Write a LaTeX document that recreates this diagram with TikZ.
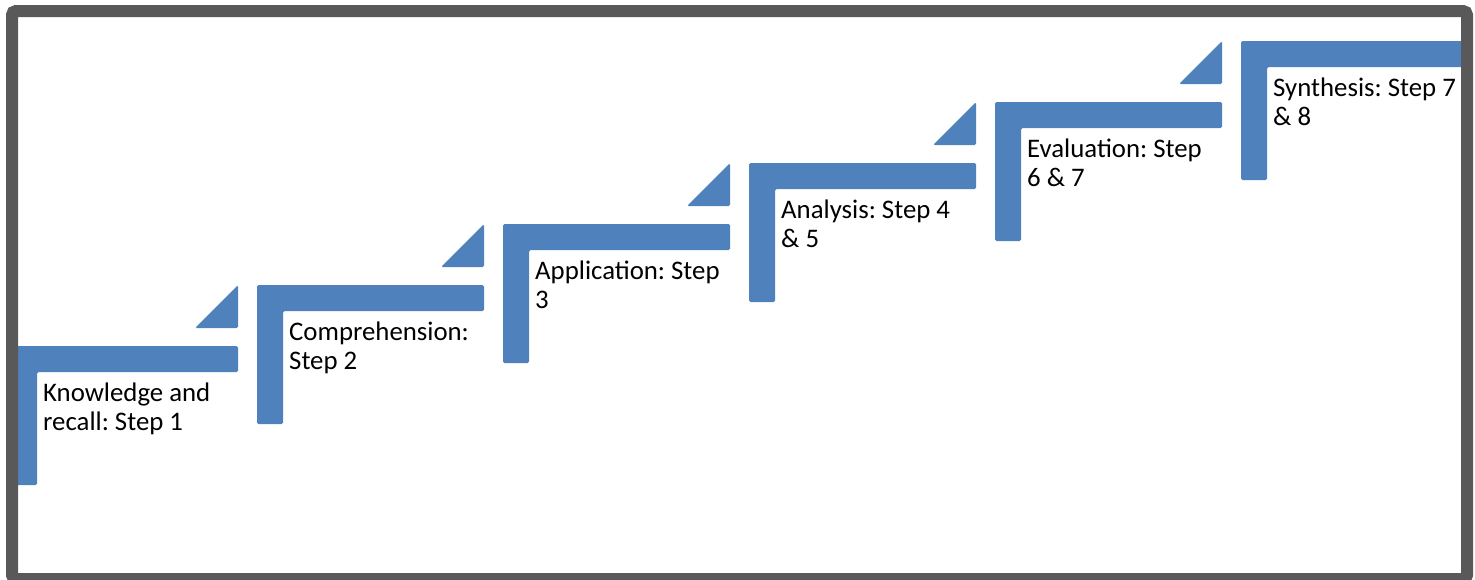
\documentclass[tikz,border=0pt]{standalone}
\usepackage{fontspec}
\setmainfont{Carlito}
\frenchspacing
\definecolor{stepblue}{HTML}{4F81BD}
\definecolor{framegray}{HTML}{595959}
\tikzset{
  steplabel/.style={anchor=base west, inner sep=0pt, font=\fontsize{26.8}{29.5}\selectfont, text=black},
}
\newcommand{\mystep}[5]{% #1 name, #2 x0, #3 top, #4 text
  \fill[stepblue, rounded corners=1.5pt] (#2,#3) -- (#2+227,#3) -- (#2+227,#3+26) -- (#2+26,#3+26) -- (#2+26,#3+139) -- (#2,#3+139) -- cycle;
  \node[steplabel] (#1) at (#2+32,#3+55) {\begin{tabular}[t]{@{}l@{}}#4\end{tabular}};
}
\newcommand{\mytri}[3]{% #1 name, #2 right x, #3 top y
  \fill[stepblue, rounded corners=1.5pt] (#2-43,#3+43) -- (#2,#3) -- (#2,#3+43) -- cycle;
  \coordinate (#1) at (#2,#3);
}
\begin{document}
\begin{tikzpicture}[x=1pt,y=-1pt]
\useasboundingbox (0,0) rectangle (1475,579);
\begin{scope}
\clip (0,0) rectangle (1475,579);
\fill[white] (0,0) rectangle (1475,579);
\mystep{s1}{11}{346}{Knowledge and\\recall: Step 1}{}
\mytri{t1}{238}{285}
\mystep{s2}{257}{285}{Comprehension:\\Step 2}{}
\mytri{t2}{484}{224}
\mystep{s3}{503}{224}{Application: Step\\3}{}
\mytri{t3}{730}{163}
\mystep{s4}{749}{163}{Analysis: Step 4\\\& 5}{}
\mytri{t4}{976}{102}
\mystep{s5}{995}{102}{Evaluation: Step\\6 \& 7}{}
\mytri{t5}{1222}{41}
\mystep{s6}{1241}{41}{Synthesis: Step 7\\\& 8}{}
\draw[framegray, line width=12pt, rounded corners=4pt] (12,11) rectangle (1467,579);
\end{scope}
\end{tikzpicture}
\end{document}
